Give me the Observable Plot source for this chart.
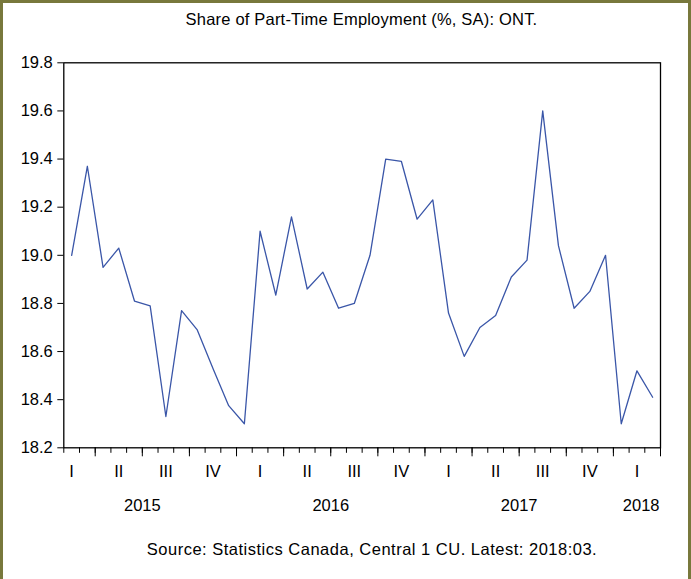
<!DOCTYPE html>
<html>
<head>
<meta charset="utf-8">
<script src="https://cdn.jsdelivr.net/npm/d3@7"></script>
<script src="https://cdn.jsdelivr.net/npm/@observablehq/plot@0.6"></script>
<style>
html, body { margin: 0; padding: 0; background: #fff; }
#wrap { position: relative; width: 691px; height: 579px; overflow: hidden; background: #fff;
  font-family: "Liberation Sans", Arial, sans-serif; color: #000; }
#title { position: absolute; left: 63px; width: 597px; top: 10px; text-align: center;
  font-size: 16.5px; line-height: 18px; white-space: nowrap; letter-spacing: 0.2px; }
#chart { position: absolute; left: 0; top: 40px; }
#caption { position: absolute; left: 72px; width: 600px; top: 540px; text-align: center;
  font-size: 16.5px; line-height: 18px; white-space: nowrap; letter-spacing: 0.5px; }
#border { position: absolute; left: 0; top: 0; right: 0; bottom: 0; box-sizing: border-box;
  border-left: 3px solid #78783c; border-top: 3px solid #78783c; border-right: 3px solid #78783c;
  pointer-events: none; }
</style>
</head>
<body>
<div id="wrap">
  <div id="title">Share of Part-Time Employment (%, SA): ONT.</div>
  <div id="chart"></div>
  <div id="caption">Source: Statistics Canada, Central 1 CU. Latest: 2018:03.</div>
  <div id="border"></div>
</div>
<script>
const months = [
  "2015:02","2015:03","2015:04","2015:05","2015:06","2015:07","2015:08","2015:09","2015:10","2015:11","2015:12",
  "2016:01","2016:02","2016:03","2016:04","2016:05","2016:06","2016:07","2016:08","2016:09","2016:10","2016:11","2016:12",
  "2017:01","2017:02","2017:03","2017:04","2017:05","2017:06","2017:07","2017:08","2017:09","2017:10","2017:11","2017:12",
  "2018:01","2018:02","2018:03"
];
const share = [
  19.00, 19.37, 18.95, 19.03, 18.81, 18.79, 18.33, 18.77, 18.69, 18.53, 18.375,
  18.30, 19.10, 18.835, 19.16, 18.86, 18.93, 18.78, 18.80, 19.00, 19.40, 19.39, 19.15,
  19.23, 18.76, 18.58, 18.70, 18.75, 18.91, 18.98, 19.60, 19.04, 18.78, 18.85, 19.00,
  18.30, 18.52, 18.41
];
const quarterLabels = ["I", "II", "III", "IV"];
const yearLabels = ["2015", "2016", "2017", "2018"];
const yTicks = [18.2, 18.4, 18.6, 18.8, 19.0, 19.2, 19.4, 19.6, 19.8];

const n = months.length;
const rows = months.map((m, i) => ({month: m, pos: i + 0.5, value: share[i]}));
const m0 = +months[0].slice(5);
const boundaryMonth = i => (m0 - 1 + i) % 12 + 1;
const minorTicks = d3.range(0, n + 1);
const majorTicks = minorTicks.filter(i => (boundaryMonth(i) - 1) % 3 === 0);
const quarterRows = rows
  .filter(r => (+r.month.slice(5)) % 3 === 2)
  .map(r => ({pos: r.pos, label: quarterLabels[Math.floor((+r.month.slice(5) - 1) / 3)]}));
const yearRows = yearLabels.map(y => {
  const idx = months.indexOf(y + ":07");
  return idx >= 0 ? {pos: idx, label: y, full: true} : {pos: n, label: y, full: false};
});

const plot = Plot.plot({
  width: 691,
  height: 490,
  marginLeft: 63.3,
  marginRight: 31,
  marginTop: 22.3,
  marginBottom: 82.7,
  x: {domain: [0, n], axis: null},
  y: {domain: [18.2, 19.8], axis: null},
  style: {fontFamily: "'Liberation Sans', Arial, sans-serif", fontSize: "16.5px", color: "#000", background: "transparent", overflow: "visible"},
  marks: [
    Plot.axisY({ticks: yTicks, tickSize: 6, tickPadding: 5, tickFormat: d3.format(".1f"), label: null}),
    Plot.axisX({ticks: minorTicks, tickSize: 5.5, tickFormat: () => "", label: null}),
    Plot.axisX({ticks: majorTicks, tickSize: 9, tickFormat: () => "", label: null}),
    Plot.text(quarterRows, {x: "pos", text: "label", frameAnchor: "bottom", dy: 23.5, lineAnchor: "middle", fill: "#000"}),
    Plot.text(yearRows.filter(d => d.full), {x: "pos", text: "label", frameAnchor: "bottom", dy: 58.2, lineAnchor: "middle", fill: "#000"}),
    Plot.text(yearRows.filter(d => !d.full), {x: "pos", text: "label", frameAnchor: "bottom", dy: 58.2, lineAnchor: "middle", textAnchor: "end", dx: -1, fill: "#000"}),
    Plot.line(rows, {x: "pos", y: "value", stroke: "#3a56a8", strokeWidth: 1.3}),
    Plot.frame({stroke: "#000", strokeWidth: 1.3})
  ]
});
document.getElementById("chart").appendChild(plot);
</script>
</body>
</html>
